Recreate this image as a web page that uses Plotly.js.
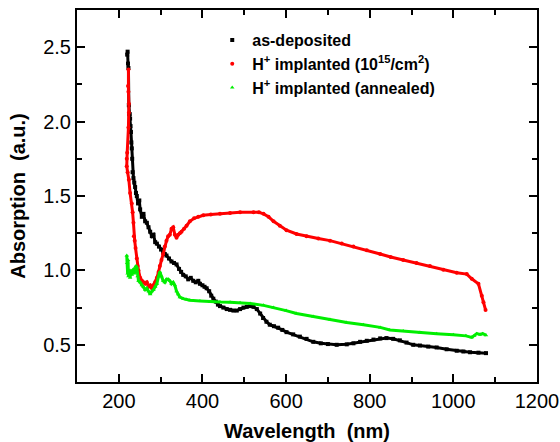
<!DOCTYPE html>
<html>
<head>
<meta charset="utf-8">
<script src="https://cdn.plot.ly/plotly-3.0.1.min.js"></script>
<style>html,body{margin:0;padding:0;background:#fff;}#chart{width:560px;height:442px;}</style>
</head>
<body>
<div id="chart"></div>
<script>
// As-deposited (black)
const wlDep = [220,221,222,223,224,225,226,227,228,229,230,231,232,233,235,237,239,241,243,246,249,251,255,259,263,267,271,275,279,283,287,291,296,301,306,310,314,320,326,332,338,344,349,354,360,366,372,378,384,390,394,400,405,410,416,421,426,432,437,442,450,458,466,474,482,490,498,506,514,522,530,538,545,553,561,571,581,591,601,617,633,649,665,683,700,721,745,761,777,793,809,825,840,856,872,888,904,920,940,960,984,1008,1024,1040,1060,1078];
const absDep = [2.45,2.47,2.39,2.36,2.11,2.05,2.05,2.02,1.97,1.93,1.86,1.82,1.75,1.66,1.62,1.59,1.56,1.52,1.50,1.45,1.47,1.41,1.36,1.38,1.33,1.32,1.29,1.26,1.23,1.24,1.19,1.18,1.16,1.14,1.12,1.11,1.10,1.08,1.06,1.05,1.04,1.01,0.99,0.97,0.96,0.94,0.95,0.93,0.92,0.93,0.91,0.90,0.89,0.88,0.86,0.83,0.81,0.79,0.77,0.76,0.75,0.74,0.735,0.73,0.73,0.74,0.75,0.755,0.76,0.755,0.74,0.71,0.68,0.655,0.635,0.625,0.615,0.60,0.585,0.57,0.555,0.54,0.52,0.51,0.505,0.50,0.503,0.51,0.52,0.527,0.535,0.543,0.545,0.54,0.53,0.515,0.50,0.495,0.488,0.482,0.47,0.46,0.455,0.45,0.447,0.444];

// H+ implanted 1e15/cm2 (red)
const wlImp = [223,222,223,224,224,223,220,219,219,221,224,227,231,233,235,236,238,240,243,245,247,251,255,259,263,267,271,275,279,283,287,291,295,298,302,306,310,314,318,322,326,330,334,338,342,346,350,356,362,370,380,390,402,420,442,466,490,522,535,546,558,570,585,601,625,649,677,705,733,761,793,825,850,880,912,944,976,1008,1032,1044,1060,1068,1072,1077];
const absImp = [2.35,2.24,2.20,2.12,2.06,1.96,1.79,1.75,1.70,1.66,1.61,1.52,1.45,1.39,1.32,1.23,1.20,1.15,1.08,1.03,1.00,0.95,0.93,0.92,0.91,0.92,0.89,0.90,0.88,0.90,0.92,0.95,0.99,1.03,1.07,1.11,1.16,1.20,1.23,1.24,1.28,1.29,1.24,1.22,1.24,1.25,1.26,1.28,1.30,1.33,1.35,1.36,1.37,1.375,1.38,1.385,1.39,1.39,1.39,1.38,1.36,1.33,1.30,1.27,1.245,1.23,1.215,1.20,1.18,1.16,1.135,1.11,1.09,1.07,1.05,1.03,1.005,0.984,0.975,0.944,0.91,0.83,0.786,0.734];

// H+ implanted annealed (green)
const wlAnn = [219,220,221,222,223,225,227,229,231,233,235,237,239,241,243,245,247,251,255,259,263,267,271,275,279,283,287,291,295,298,302,306,310,314,318,322,326,330,334,338,342,346,354,362,370,394,418,442,466,490,514,546,570,600,625,665,705,745,785,825,848,880,920,960,1000,1030,1044,1050,1056,1064,1070,1078];
const absAnn = [1.10,1.05,0.98,1.07,0.96,1.00,0.95,1.00,0.97,0.99,1.01,0.98,1.00,1.03,1.02,0.96,0.93,0.92,0.90,0.89,0.87,0.88,0.86,0.84,0.86,0.87,0.89,0.91,0.96,0.99,0.96,0.93,0.92,0.94,0.94,0.93,0.91,0.92,0.90,0.86,0.84,0.82,0.81,0.805,0.80,0.795,0.79,0.788,0.786,0.783,0.778,0.765,0.75,0.73,0.71,0.69,0.67,0.65,0.635,0.617,0.60,0.592,0.583,0.575,0.568,0.56,0.55,0.56,0.575,0.57,0.575,0.565];

const names = ['as-deposited', 'H<sup>+</sup> implanted (10<sup>15</sup>/cm<sup>2</sup>)', 'H<sup>+</sup> implanted (annealed)'];
const colors = ['#000000', '#ff0000', '#00ee00'];
const symbols = ['square', 'circle', 'triangle-up'];
const xs = [wlDep, wlImp, wlAnn];
const ys = [absDep, absImp, absAnn];

const traces = [];
for (let i = 0; i < 3; i++) {
  traces.push({
    x: xs[i], y: ys[i], type: 'scatter', mode: 'lines+markers',
    line: {color: colors[i], width: 3},
    marker: {color: colors[i], symbol: symbols[i], size: 4},
    showlegend: false, hoverinfo: 'skip'
  });
}
for (let i = 0; i < 3; i++) {
  traces.push({
    x: [null], y: [null], type: 'scatter', mode: 'markers',
    name: '<b>' + names[i] + '</b>',
    marker: {color: colors[i], symbol: symbols[i], size: 4},
    legendgroup: 'g' + i
  });
}

const font = 'Liberation Sans, Arial, Helvetica, sans-serif';
const axisCommon = {
  showline: true, linecolor: '#000', linewidth: 2, mirror: 'ticks',
  ticks: 'inside', ticklen: 8, tickwidth: 2, tickcolor: '#000',
  showgrid: false, zeroline: false,
  tickfont: {family: font, size: 20, color: '#000'}
};

const layout = {
  width: 560, height: 442,
  margin: {l: 77, r: 23, t: 10, b: 60},
  paper_bgcolor: '#fff', plot_bgcolor: '#fff',
  showlegend: true,
  legend: {
    x: 0.294, y: 0.965, xanchor: 'left', yanchor: 'top',
    bgcolor: 'rgba(0,0,0,0)', borderwidth: 0,
    font: {family: font, size: 16, color: '#000'},
    traceorder: 'grouped', tracegroupgap: 0
  },
  xaxis: Object.assign({}, axisCommon, {
    range: [100, 1200], tick0: 200, dtick: 200,
    minor: {ticks: 'inside', ticklen: 5, tickwidth: 2, tickcolor: '#000', dtick: 100, tick0: 100, showgrid: false},
    title: {text: '<b>Wavelength  (nm)</b>', font: {family: font, size: 20, color: '#000'}, standoff: 14}
  }),
  yaxis: Object.assign({}, axisCommon, {
    range: [0.25, 2.75], tick0: 0.5, dtick: 0.5, tickformat: '.1f',
    minor: {ticks: 'inside', ticklen: 5, tickwidth: 2, tickcolor: '#000', dtick: 0.25, tick0: 0.25, showgrid: false},
    title: {text: '<b>Absorption  (a.u.)</b>', font: {family: font, size: 20, color: '#000'}, standoff: 12}
  })
};

Plotly.newPlot('chart', traces, layout, {displayModeBar: false, staticPlot: true});
</script>
</body>
</html>
